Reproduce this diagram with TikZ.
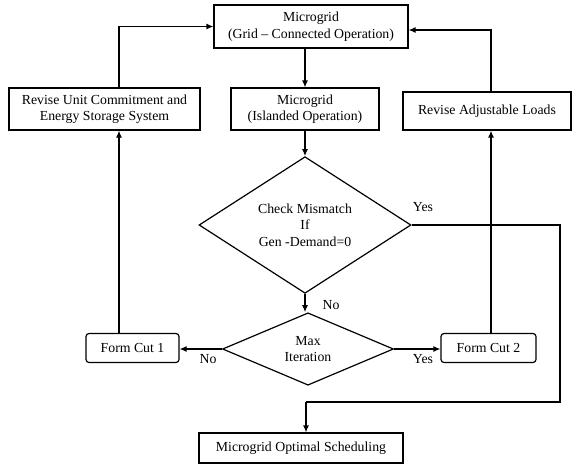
\documentclass[tikz,border=0pt]{standalone}
\usepackage{fontspec}
\setmainfont{Liberation Serif}
\usetikzlibrary{shapes.geometric,arrows.meta}
\begin{document}
\begin{tikzpicture}[x=1pt,y=-1pt,
  every node/.style={font=\fontsize{13.8}{16.5}\selectfont, inner sep=0pt},
  flowbox/.style={draw, line width=1.2pt, align=center},
  cutbox/.style={flowbox, rounded corners=3pt},
  decision/.style={draw, line width=1.2pt, shape=diamond, align=center, inner sep=0pt},
  arr/.style={line width=1.2pt, -{Latex[length=7pt,width=6pt]}},
  link/.style={line width=1.2pt},
  lbl/.style={font=\fontsize{13.8}{16.5}\selectfont}]
\useasboundingbox (0,0) rectangle (573,464);

% process boxes
\node[flowbox, minimum width=194pt, minimum height=43pt] (grid) at (311,26.5)
  {Microgrid\\(Grid -- Connected Operation)};
\node[flowbox, minimum width=191pt, minimum height=42pt] (ruc) at (104.5,109)
  {Revise Unit Commitment and\\Energy Storage System};
\node[flowbox, minimum width=148pt, minimum height=42pt] (isl) at (305,109)
  {Microgrid\\(Islanded Operation)};
\node[flowbox, minimum width=168pt, minimum height=38pt] (ral) at (487,111)
  {Revise Adjustable Loads};

% decisions
\node[decision, minimum width=212pt, minimum height=103pt] (chk) at (305,225)
  {Check Mismatch\\If\\Gen -Demand=0};
\node[decision, minimum width=171pt, minimum height=68pt] (maxit) at (308,349)
  {Max\\Iteration};

% cut boxes
\node[cutbox, minimum width=93pt, minimum height=29pt] (fc1) at (132.5,348)
  {Form Cut 1};
\node[cutbox, minimum width=95pt, minimum height=29pt] (fc2) at (488.5,348)
  {Form Cut 2};

% result
\node[flowbox, minimum width=204pt, minimum height=30pt] (opt) at (301,448)
  {Microgrid Optimal Scheduling};

% helper coordinates for routing
\coordinate (lx) at (119,0);
\coordinate (rx) at (491,0);
\coordinate (ex) at (560,402);
\coordinate (dx) at (306,402);

% connectors
\draw[arr] (isl.north |- grid.south) -- (isl.north);
\draw[arr] (isl.south) -- (chk.north);
\draw[arr] (chk.south) -- (chk.south |- maxit.north);
\draw[arr] (maxit.west) -- (maxit.west -| fc1.east);
\draw[arr] (maxit.east) -- (maxit.east -| fc2.west);
\draw[arr] (fc1.north -| lx) -- (ruc.south -| lx);
\draw[arr] (ruc.north -| lx) |- (grid.west);
\draw[arr] (fc2.north -| rx) -- (ral.south -| rx);
\draw[arr] (ral.north -| rx) |- ([yshift=-3.5pt]grid.east);
\draw[link] (chk.east) -- (chk.east -| ex) -- (ex) -- (dx);
\draw[arr] (dx) -- (dx |- opt.north);

% branch labels
\node[lbl] (yes1) at (423,207) {Yes};
\node[lbl] (no1) at (331,305) {No};
\node[lbl] (no2) at (208,359) {No};
\node[lbl] (yes2) at (423,359) {Yes};
\end{tikzpicture}
\end{document}
